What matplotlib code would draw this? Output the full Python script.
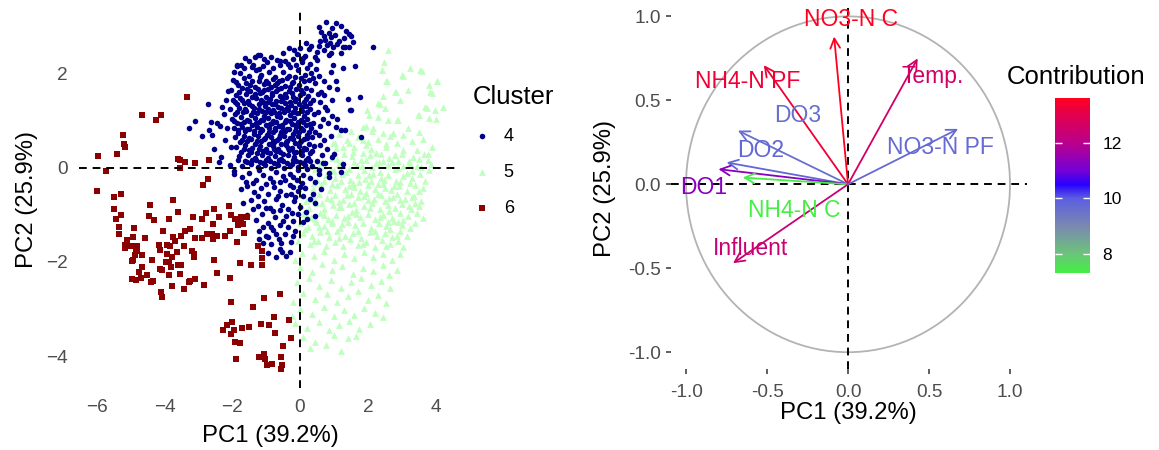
import numpy as np
import matplotlib
matplotlib.use("Agg")
import matplotlib.pyplot as plt
from matplotlib.colors import LinearSegmentedColormap, Normalize
from matplotlib.patches import Circle
from matplotlib.cm import ScalarMappable

plt.rcParams['font.family'] = ['Liberation Sans', 'DejaVu Sans']

# ---- individuals (PC1, PC2) per cluster ----
cluster4 = [
    # head at the top
    (0.78, 3.10), (1.05, 3.08), (0.55, 3.00), (0.95, 2.98), (1.20, 3.02), (0.62, 2.90), (0.85, 2.88), (1.35, 2.92),
    (1.45, 2.86), (0.72, 2.80), (0.90, 2.78), (1.02, 2.83), (1.30, 2.77), (1.50, 2.81), (0.60, 2.70), (0.75, 2.72),
    (0.88, 2.66), (1.15, 2.70), (1.55, 2.68), (0.55, 2.60), (0.80, 2.62), (0.98, 2.57), (1.10, 2.63), (1.32, 2.58),
    (1.28, 2.58), (1.45, 2.58), (0.25, 2.52), (0.50, 2.47), (0.70, 2.50), (0.92, 2.45), (0.31, 2.59), (0.18, 2.65),
    (-0.10, 2.42), (0.15, 2.38), (0.45, 2.36), (0.85, 2.41), (1.20, 2.44), (2.16, 2.58), (-0.34, 2.55), (-0.18, 2.50),
    (0.00, 2.55), (-0.49, 2.45),
    # top of main body
    (-1.23, 2.40), (-1.17, 2.40), (-1.33, 2.37), (-1.87, 2.16), (-1.75, 2.20), (-0.98, 2.26), (-0.69, 2.30),
    (-1.50, 2.28), (-1.62, 2.33), (-0.85, 2.35), (-0.45, 2.27), (-0.22, 2.31), (0.05, 2.26), (0.30, 2.22),
    (-1.40, 2.20), (-1.08, 2.17), (-0.58, 2.19), (-0.30, 2.14), (0.20, 2.12), (-2.13, 1.64), (-1.87, 2.18),
    (-1.65, 2.12), (-1.42, 2.15), (-1.20, 2.10), (-0.80, 2.13), (-0.58, 2.28), (-0.35, 2.22), (-0.12, 2.18),
    (0.10, 2.33), (-1.95, 2.05), (-1.05, 2.32),
    # dense core
    (-1.78, 2.02), (-1.52, 1.95), (-1.30, 2.08), (-1.14, 1.97), (-0.91, 2.05), (-0.73, 1.93), (-0.50, 2.04),
    (-0.33, 1.96), (-0.06, 2.09), (0.14, 1.98), (0.33, 2.03),
    (-1.97, 1.88), (-1.64, 1.91), (-1.43, 1.84), (-1.18, 1.93), (-1.01, 1.86), (-0.80, 1.90), (-0.62, 1.85),
    (-0.39, 1.92), (-0.21, 1.83), (0.04, 1.91), (0.26, 1.87),
    (-1.88, 1.82), (-1.47, 1.77), (-1.22, 1.84), (-0.96, 1.80), (-0.74, 1.76), (-0.53, 1.87), (-0.31, 1.72),
    (-0.15, 1.94), (0.12, 1.84), (0.38, 1.92),
    (-1.83, 1.77), (-1.60, 1.80), (-1.33, 1.73), (-1.07, 1.78), (-0.86, 1.72), (-0.68, 1.81), (-0.45, 1.74),
    (-0.25, 1.80), (-0.02, 1.76), (0.19, 1.71), (0.44, 1.80),
    (-2.04, 1.66), (-1.71, 1.70), (-1.49, 1.63), (-1.25, 1.69), (-1.12, 1.61), (-0.96, 1.67), (-0.72, 1.63),
    (-0.57, 1.70), (-0.33, 1.64), (-0.11, 1.68), (0.09, 1.60), (0.32, 1.66),
    (-1.80, 1.62), (-1.55, 1.68), (-1.33, 1.57), (-1.05, 1.65), (-0.84, 1.55), (-0.65, 1.67), (-0.40, 1.52),
    (-0.25, 1.60), (0.02, 1.66), (0.18, 1.47),
    (-1.90, 1.55), (-1.59, 1.58), (-1.41, 1.52), (-1.17, 1.59), (-0.99, 1.51), (-0.82, 1.60), (-0.60, 1.54),
    (-0.44, 1.58), (-0.20, 1.50), (0.01, 1.56), (0.23, 1.53), (0.52, 1.57),
    (-1.99, 1.45), (-1.76, 1.48), (-1.54, 1.43), (-1.29, 1.49), (-1.09, 1.41), (-0.88, 1.46), (-0.71, 1.43),
    (-0.49, 1.48), (-0.30, 1.41), (-0.12, 1.47), (0.13, 1.40), (0.37, 1.45),
    (-1.92, 1.40), (-1.70, 1.44), (-1.50, 1.37), (-1.15, 1.45), (-0.95, 1.40), (-0.75, 1.35), (-0.55, 1.42),
    (-0.35, 1.30), (-0.14, 1.43), (0.05, 1.30),
    (-1.85, 1.35), (-1.65, 1.38), (-1.43, 1.32), (-1.21, 1.37), (-1.04, 1.31), (-0.84, 1.36), (-0.65, 1.30),
    (-0.44, 1.38), (-0.26, 1.33), (-0.04, 1.37), (0.17, 1.31), (0.28, 1.38),
    (-2.06, 1.25), (-1.79, 1.28), (-1.58, 1.22), (-1.36, 1.27), (-1.13, 1.21), (-0.94, 1.26), (-0.77, 1.20),
    (-0.56, 1.28), (-0.37, 1.23), (-0.16, 1.27), (0.06, 1.21), (0.30, 1.25),
    (-1.87, 1.20), (-1.62, 1.25), (-1.40, 1.19), (-1.20, 1.25), (-0.99, 1.18), (-0.81, 1.23), (-0.62, 1.16),
    (-0.42, 1.25), (-0.22, 1.19), (0.20, 1.20),
    (-1.93, 1.15), (-1.68, 1.18), (-1.46, 1.12), (-1.27, 1.17), (-1.05, 1.11), (-0.87, 1.16), (-0.69, 1.10),
    (-0.48, 1.18), (-0.29, 1.13), (-0.08, 1.17), (0.12, 1.11), (0.42, 1.15),
    (-2.01, 1.05), (-1.75, 1.08), (-1.56, 1.02), (-1.32, 1.07), (-1.16, 1.01), (-0.96, 1.06), (-0.79, 1.00),
    (-0.59, 1.08), (-0.40, 1.03), (-0.19, 1.07), (0.02, 1.01), (0.21, 1.05),
    (-1.95, 0.99), (-1.73, 0.93), (-1.50, 1.00), (-1.30, 0.95), (-1.10, 1.02), (-0.90, 0.93), (-0.70, 0.97),
    (-0.52, 0.92), (-0.30, 1.00), (-0.12, 0.92), (0.08, 0.97), (0.28, 0.93),
    (-1.87, 0.95), (-1.66, 0.98), (-1.41, 0.92), (-1.22, 0.97), (-1.01, 0.91), (-0.84, 0.96), (-0.62, 0.90),
    (-0.45, 0.98), (-0.23, 0.93), (-0.05, 0.97), (0.17, 0.91), (0.37, 0.96),
    (-1.96, 0.85), (-1.71, 0.88), (-1.51, 0.82), (-1.28, 0.87), (-1.11, 0.81), (-0.91, 0.86), (-0.73, 0.80),
    (-0.52, 0.88), (-0.34, 0.83), (-0.12, 0.87), (0.08, 0.81), (0.31, 0.86),
    (-1.82, 0.80), (-1.57, 0.83), (-1.35, 0.78), (-1.14, 0.83), (-0.92, 0.77), (-0.75, 0.84), (-0.55, 0.76),
    (-0.38, 0.83), (-0.16, 0.78), (0.04, 0.84), (0.26, 0.77),
    (-1.82, 0.75), (-1.61, 0.78), (-1.37, 0.72), (-1.18, 0.77), (-0.97, 0.71), (-0.81, 0.76), (-0.60, 0.70),
    (-0.43, 0.78), (-0.21, 0.73), (-0.03, 0.77), (0.21, 0.71), (0.43, 0.76),
    (-1.92, 0.65), (-1.66, 0.68), (-1.46, 0.62), (-1.23, 0.67), (-1.06, 0.61), (-0.86, 0.66), (-0.69, 0.60),
    (-0.47, 0.68), (-0.29, 0.63), (-0.07, 0.67), (0.13, 0.61), (0.34, 0.66),
    (-1.72, 0.60), (-1.50, 0.64), (-1.27, 0.58), (-1.02, 0.63), (-0.80, 0.57), (-0.63, 0.63), (-0.41, 0.55),
    (-0.22, 0.62), (0.00, 0.55), (0.20, 0.63),
    (-1.78, 0.55), (-1.57, 0.58), (-1.33, 0.52), (-1.14, 0.57), (-0.93, 0.51), (-0.76, 0.56), (-0.55, 0.50),
    (-0.38, 0.58), (-0.16, 0.53), (0.02, 0.57), (0.26, 0.51),
    (-1.88, 0.45), (-1.61, 0.48), (-1.41, 0.42), (-1.18, 0.47), (-1.01, 0.41), (-0.81, 0.46), (-0.64, 0.40),
    (-0.42, 0.48), (-0.24, 0.43), (-0.02, 0.47), (0.18, 0.41), (0.41, 0.46),
    (-1.66, 0.40), (-1.45, 0.33), (-1.22, 0.40), (-0.98, 0.35), (-0.77, 0.41), (-0.58, 0.34), (-0.37, 0.42),
    (-0.17, 0.35), (0.13, 0.43), (0.35, 0.36),
    (-1.73, 0.35), (-1.51, 0.38), (-1.27, 0.32), (-1.09, 0.37), (-0.88, 0.31), (-0.71, 0.36), (-0.50, 0.30),
    (-0.33, 0.38), (-0.11, 0.33), (0.07, 0.37), (0.29, 0.31),
    (-1.81, 0.25), (-1.54, 0.28), (-1.34, 0.22), (-1.11, 0.27), (-0.94, 0.21), (-0.73, 0.26), (-0.56, 0.20),
    (-0.35, 0.28), (-0.17, 0.23), (0.05, 0.27), (0.22, 0.21),
    (-1.61, 0.15), (-1.41, 0.18), (-1.17, 0.12), (-0.99, 0.17), (-0.78, 0.11), (-0.61, 0.16), (-0.39, 0.10),
    (-0.21, 0.18), (0.01, 0.13), (0.18, 0.17),
    (-1.55, 0.12), (-1.30, 0.17), (-1.08, 0.10), (-0.88, 0.15), (-0.68, 0.09), (-0.50, 0.14), (-0.30, 0.05),
    (-0.12, 0.15), (0.08, 0.10), (0.28, 0.14),
    (-1.71, 0.05), (-1.44, 0.08), (-1.25, 0.02), (-1.02, 0.07), (-0.85, 0.01), (-0.64, 0.06), (-0.46, 0.00),
    (-0.25, 0.08), (-0.07, 0.03), (0.15, 0.07), (0.36, 0.04),
    # sparse left tail
    (-3.27, 0.84), (-3.10, 1.00), (-2.72, 1.36), (-2.90, 0.67), (-2.70, 0.81), (-2.36, 0.89), (-2.34, 0.24),
    (-2.06, 0.06), (-1.82, 0.18), (-1.96, -0.06), (-2.60, 0.70), (-2.45, 0.95), (-2.55, 0.40), (-2.25, 1.15),
    (-2.20, 0.60), (-2.15, 0.85), (-2.30, 1.30), (-2.05, 0.45), (-2.40, 0.12), (-2.62, 0.98), (-2.18, 1.45),
    # sparse right side
    (0.55, 1.95), (0.72, 1.85), (0.62, 1.62), (0.85, 1.72), (1.06, 1.84), (1.08, 1.67), (0.93, 1.45), (0.58, 1.40),
    (0.75, 1.30), (1.41, 1.46), (1.46, 1.23), (1.77, 1.50), (0.79, 1.23), (0.52, 1.18), (0.68, 1.05), (0.95, 1.10),
    (0.60, 0.90), (0.82, 0.95), (1.05, 0.88), (1.33, 0.81), (1.79, 0.65), (0.55, 0.70), (0.72, 0.60), (0.90, 0.68),
    (0.58, 0.48), (0.80, 0.40), (1.00, 0.30), (0.65, 0.28), (0.50, 0.15), (0.75, 0.10), (0.95, 0.24), (1.26, 0.09),
    (0.55, -0.05), (0.85, -0.10), (1.10, 1.05), (0.70, 1.55), (0.48, 2.10), (0.90, 2.05), (1.28, 2.12), (0.98, 2.19),
    (1.62, 2.17), (0.51, 2.30), (1.21, 0.81), (1.50, 1.23), (0.69, 0.11),
    # lower tongue
    (-1.95, -0.12), (-1.70, -0.20), (-1.50, -0.10), (-1.30, -0.25), (-1.10, -0.15), (-0.90, -0.22), (-0.70, -0.08),
    (-0.50, -0.18), (-0.30, -0.12), (-0.10, -0.26), (0.10, -0.15), (0.30, -0.22), (0.55, -0.12), (0.85, -0.20),
    (1.20, -0.08), (-0.60, -0.30), (-1.20, -0.05), (-0.05, -0.05), (0.20, -0.02),
    (-1.60, -0.30), (-1.40, -0.33), (-0.80, -0.30), (-0.45, -0.25), (-0.20, -0.20), (0.00, -0.40), (0.45, -0.30),
    (-1.75, -0.45), (-1.55, -0.38), (-1.35, -0.52), (-1.15, -0.42), (-0.95, -0.55), (-0.78, -0.40), (-0.58, -0.48),
    (-0.40, -0.58), (-0.22, -0.40), (-0.05, -0.50), (0.15, -0.43), (0.38, -0.55), (0.62, -0.45), (-1.00, -0.35),
    (-0.30, -0.36), (-0.15, -0.62), (0.05, -0.33),
    (-1.25, -0.60), (-0.65, -0.60), (-0.28, -0.55), (0.10, -0.60),
    (-1.69, -0.74), (-1.45, -0.68), (-1.25, -0.80), (-1.05, -0.70), (-0.88, -0.85), (-0.70, -0.66), (-0.52, -0.78),
    (-0.35, -0.88), (-0.18, -0.70), (0.00, -0.82), (0.18, -0.93), (0.44, -0.75), (0.30, -0.65), (-0.80, -0.92),
    (-1.40, -0.88), (-1.00, -0.86), (-0.60, -0.90), (-0.25, -0.95),
    (-1.57, -1.00), (-1.30, -1.10), (-1.12, -0.98), (-0.95, -1.18), (-0.75, -1.05), (-0.58, -1.22), (-0.40, -1.02),
    (-0.22, -1.12), (-0.05, -0.98), (0.20, -1.08), (0.45, -1.02), (-0.85, -1.25), (-0.35, -1.25),
    (0.08, -1.15), (-0.50, -1.12), (-1.10, -1.25),
    (-1.22, -1.35), (-1.00, -1.45), (-0.80, -1.32), (-0.62, -1.52), (-0.45, -1.40), (-0.28, -1.58), (-0.85, -1.62),
    (-0.60, -1.72), (-0.54, -1.78), (-0.30, -1.78), (-0.95, -1.80), (-0.40, -1.88), (-0.70, -1.90), (-1.10, -1.60),
    (-1.21, -1.51), (-0.96, -1.47), (-0.15, -1.35), (-0.70, -1.40), (-0.55, -1.60), (-0.20, -1.45),
]

cluster5 = [
    # upper sparse part
    (2.60, 2.50), (2.49, 2.26), (2.43, 2.09), (3.00, 1.98), (3.54, 2.09), (3.24, 2.12), (4.05, 1.85), (3.79, 1.77),
    (3.83, 1.62), (2.54, 1.84), (2.83, 1.62), (2.46, 1.53), (2.95, 1.45), (2.31, 1.38), (2.51, 1.27), (3.69, 1.30),
    (3.98, 1.23), (4.21, 1.30), (3.52, 1.13), (3.81, 1.06), (2.02, 1.13), (2.31, 1.09), (2.60, 1.02), (2.90, 1.02),
    (1.95, 0.89), (2.11, 0.79), (2.46, 0.74), (3.19, 0.84), (3.52, 0.77), (3.88, 0.45), (3.76, 0.30), (1.43, 0.53),
    (1.87, 0.60), (2.65, 0.67), (2.85, 0.53), (3.44, 0.38), (3.34, 0.24), (3.24, 0.10), (1.03, 0.53), (1.28, 0.45),
    (3.61, 2.07), (3.03, 1.96), (3.19, 1.66), (4.03, 1.84), (3.88, 1.59), (2.36, 1.36), (1.97, 1.23), (2.16, 0.84),
    (2.85, 1.02), (3.49, 1.13), (3.74, 1.27), (1.87, 0.87), (1.38, 0.60), (0.98, 0.53), (2.41, 2.09), (2.80, 1.62),
    (2.56, 1.84), (3.05, 0.70), (3.62, 0.62), (4.00, 1.05),
    (1.15, 0.72), (1.50, 0.78), (1.70, 0.66), (2.00, 0.55), (2.30, 0.62), (2.55, 0.50), (2.75, 0.75), (3.30, 0.58),
    (1.60, 0.45), (2.10, 0.40), (2.40, 0.30), (1.85, 0.32), (1.10, 0.20), (3.00, 0.30),
    # dense middle
    (1.05, 0.42), (1.55, 0.35), (1.95, 0.48), (2.25, 0.32), (2.55, 0.44), (3.05, 0.38), (3.65, 0.30), (2.80, 0.28),
    (1.30, 0.30), (0.65, 0.15), (0.95, 0.22), (1.25, 0.12), (1.52, 0.25), (1.80, 0.16), (2.05, 0.27), (2.32, 0.13),
    (2.62, 0.22), (2.90, 0.14), (3.50, 0.20), (3.76, 0.18),
    (0.55, 0.05), (0.90, -0.02), (1.15, 0.08), (1.35, -0.08), (1.60, 0.12), (1.95, 0.18), (2.45, 0.15),
    (2.90, 0.00), (3.20, 0.15), (3.45, 0.05), (3.85, 0.08), (0.30, 0.05),
    (0.45, -0.02), (0.72, 0.05), (1.00, -0.06), (1.22, 0.04), (1.45, -0.03), (1.68, 0.07), (1.90, -0.05),
    (2.12, 0.03), (2.35, -0.08), (2.58, 0.06), (2.80, -0.02), (3.05, 0.04), (3.30, -0.06), (3.58, 0.02), (3.80, -0.04),
    (0.25, -0.18), (0.50, -0.25), (0.78, -0.14), (1.02, -0.22), (1.25, -0.12), (1.48, -0.26), (1.70, -0.16),
    (1.92, -0.24), (2.15, -0.13), (2.38, -0.21), (2.60, -0.15), (2.82, -0.27), (3.05, -0.17), (3.30, -0.22),
    (3.55, -0.12), (3.70, -0.28),
    (0.40, -0.32), (0.70, -0.28), (0.95, -0.35), (1.20, -0.28), (1.45, -0.38), (1.75, -0.30), (2.30, -0.35),
    (2.78, -0.38), (3.25, -0.32), (3.52, -0.50),
    (0.12, -0.38), (0.38, -0.45), (0.62, -0.35), (0.88, -0.47), (1.10, -0.36), (1.34, -0.44), (1.56, -0.33),
    (1.78, -0.48), (2.00, -0.37), (2.22, -0.45), (2.45, -0.34), (2.68, -0.46), (2.92, -0.39), (3.15, -0.48),
    (3.40, -0.36), (3.62, -0.42),
    (0.05, -0.58), (0.30, -0.66), (0.55, -0.55), (0.80, -0.64), (1.04, -0.57), (1.28, -0.68), (1.50, -0.56),
    (1.72, -0.62), (1.95, -0.53), (2.18, -0.67), (2.40, -0.58), (2.62, -0.64), (2.86, -0.55), (3.10, -0.66),
    (3.35, -0.59), (3.58, -0.70),
    (0.18, -0.70), (0.42, -0.62), (0.65, -0.75), (0.90, -0.66), (1.15, -0.72), (1.60, -0.74), (2.00, -0.68),
    (2.50, -0.70), (2.95, -0.68), (3.20, -0.80), (3.30, -0.62),
    (0.02, -0.78), (0.25, -0.86), (0.48, -0.75), (0.72, -0.88), (0.98, -0.79), (1.20, -0.84), (1.44, -0.76),
    (1.66, -0.89), (1.90, -0.80), (2.12, -0.74), (2.35, -0.87), (2.58, -0.78), (2.80, -0.85), (3.02, -0.76),
    (3.28, -0.88), (3.50, -0.80),
    (0.08, -0.98), (0.32, -1.05), (0.58, -0.95), (0.82, -1.08), (1.06, -0.99), (1.30, -1.06), (1.52, -0.94),
    (1.76, -1.04), (2.00, -0.97), (2.22, -1.09), (2.45, -1.00), (2.70, -1.06), (2.94, -0.96), (3.18, -1.03),
    (3.62, -1.07),
    (0.20, -1.00), (0.45, -1.08), (0.70, -1.00), (0.95, -1.12), (1.40, -1.02), (1.65, -0.98), (2.35, -1.05),
    (2.60, -1.15), (3.05, -1.10), (3.40, -1.18),
    (1.82, 0.05), (2.02, -0.15), (2.25, 0.10), (2.48, -0.25), (2.70, 0.12), (1.60, -0.40), (1.88, -0.60),
    (2.10, -0.28), (2.30, -0.55), (2.52, -0.42), (2.75, -0.62), (2.95, -0.30), (3.15, -0.10), (3.38, -0.75),
    (1.38, -0.58), (1.15, -0.82), (2.05, -0.85), (2.62, -0.92), (2.88, -1.15), (3.45, -0.95),
    # lower part
    (0.00, -1.18), (0.22, -1.26), (0.46, -1.15), (0.70, -1.24), (0.95, -1.17), (1.18, -1.28), (1.40, -1.14),
    (1.62, -1.22), (1.86, -1.18), (2.10, -1.27), (2.32, -1.16), (2.55, -1.24), (2.78, -1.13), (3.00, -1.22),
    (3.25, -1.28),
    (0.15, -1.30), (0.55, -1.25), (0.80, -1.35), (1.25, -1.20), (1.70, -1.33), (2.20, -1.35), (2.65, -1.30),
    (2.85, -1.45), (0.40, -1.55), (1.15, -1.50), (1.85, -1.62), (2.55, -1.65),
    (0.10, -1.38), (0.35, -1.45), (0.60, -1.36), (0.85, -1.47), (1.10, -1.35), (1.32, -1.44), (1.55, -1.38),
    (1.80, -1.48), (2.05, -1.36), (2.28, -1.45), (2.50, -1.38), (2.72, -1.47), (2.95, -1.34), (3.15, -1.44),
    (-0.05, -1.56), (0.28, -1.62), (0.52, -1.55), (0.78, -1.66), (1.02, -1.58), (1.26, -1.65), (1.48, -1.52),
    (1.72, -1.63), (1.96, -1.57), (2.20, -1.68), (2.42, -1.54), (2.66, -1.62), (2.90, -1.56), (3.05, -1.68),
    (0.05, -1.80), (0.40, -1.88), (0.70, -1.76), (1.00, -1.95), (1.30, -1.82), (1.60, -1.92), (1.88, -1.78),
    (2.15, -1.90), (2.45, -1.84), (2.70, -1.96), (2.95, -1.82), (-0.15, -1.95),
    (0.00, -2.10), (0.35, -2.22), (0.65, -2.05), (0.95, -2.18), (1.25, -2.08), (1.55, -2.26), (1.85, -2.12),
    (2.15, -2.20), (2.45, -2.06), (2.85, -2.17), (2.62, -2.28),
    (-0.10, -2.42), (0.25, -2.35), (0.55, -2.50), (0.90, -2.38), (1.20, -2.55), (1.50, -2.42), (1.80, -2.34),
    (2.10, -2.48), (2.40, -2.40), (2.65, -2.55),
    (0.10, -2.65), (0.45, -2.78), (0.80, -2.68), (1.10, -2.85), (1.40, -2.72), (1.70, -2.62), (2.00, -2.80),
    (2.30, -2.70), (2.55, -2.88), (-0.20, -2.85),
    (0.00, -3.00), (0.35, -3.10), (0.70, -2.95), (1.00, -3.15), (1.30, -3.02), (1.60, -3.12), (1.90, -2.98),
    (2.20, -3.08), (2.46, -3.16), (-0.25, -3.15),
    (-0.15, -3.30), (0.20, -3.40), (0.55, -3.28), (0.85, -3.45), (1.15, -3.35), (1.45, -3.25), (1.75, -3.42),
    (2.05, -3.32),
    (0.10, -3.60), (0.45, -3.70), (0.77, -3.77), (1.20, -3.89), (1.00, -3.55), (1.40, -3.62), (0.30, -3.82),
    (1.65, -3.58),
]

cluster6 = [
    (-3.34, 1.52), (-4.65, 1.13), (-4.10, 1.13), (-4.26, 1.01), (-5.23, 0.70), (-5.18, 0.51), (-5.15, 0.44),
    (-5.39, 0.29), (-5.96, 0.26), (-5.72, -0.06), (-3.60, 0.20), (-3.54, 0.18), (-3.38, 0.13), (-3.10, 0.11),
    (-2.68, 0.17), (-3.53, 0.01), (-2.71, -0.23), (-2.86, -0.36), (-6.00, -0.48), (-5.50, -0.62), (-5.28, -0.56),
    (-3.74, -0.68), (-5.49, -0.87), (-4.42, -0.79), (-3.59, -0.93), (-5.28, -0.99), (-5.43, -1.08), (-4.47, -1.02),
    (-4.32, -1.11), (-3.86, -1.09), (-3.15, -1.04), (-2.77, -0.96), (-2.53, -0.88), (-2.90, -1.09), (-2.40, -1.04),
    (-2.09, -0.81), (-2.04, -0.99), (-1.92, -1.09), (-1.84, -1.21), (-1.74, -1.14), (-1.69, -1.19), (-1.56, -1.04),
    (-2.58, -1.19), (-3.24, -1.30), (-3.38, -1.35), (-5.33, -1.26), (-4.90, -1.27), (-4.03, -1.35), (-5.34, -1.41),
    (-4.94, -1.46), (-4.56, -1.50), (-3.75, -1.47), (-3.70, -1.55), (-3.50, -1.45), (-3.09, -1.50), (-2.90, -1.50),
    (-2.74, -1.40), (-2.60, -1.41), (-2.56, -1.52), (-2.45, -1.44), (-2.20, -1.45), (-2.06, -1.34), (-5.11, -1.53),
    (-5.16, -1.64), (-4.99, -1.65), (-4.80, -1.65), (-4.80, -1.72), (-5.15, -1.71), (-4.84, -1.77), (-4.88, -1.85),
    (-4.92, -1.96), (-4.96, -1.97), (-4.66, -1.85), (-4.37, -1.96), (-4.17, -1.63), (-4.12, -1.74), (-3.91, -1.64),
    (-3.83, -1.67), (-3.91, -1.82), (-3.78, -1.89), (-3.63, -1.78), (-3.41, -1.65), (-3.18, -1.77), (-3.14, -1.83),
    (-3.13, -1.90), (-3.95, -1.99), (-3.86, -2.01), (-3.59, -2.06), (-3.52, -2.06), (-4.13, -2.15), (-4.06, -2.16),
    (-3.81, -2.10), (-4.67, -2.11), (-4.75, -2.21), (-4.50, -2.28), (-4.70, -2.33), (-4.96, -2.37), (-4.84, -2.39),
    (-4.40, -2.43), (-4.33, -2.41), (-3.86, -2.28), (-3.53, -2.25), (-3.77, -2.52), (-4.09, -2.63), (-4.07, -2.75),
    (-3.42, -2.57), (-3.28, -2.43), (-3.24, -2.40), (-3.11, -2.36), (-2.82, -2.49), (-2.54, -1.96), (-2.46, -2.23),
    (-2.06, -2.33), (-1.77, -2.03), (-1.44, -2.06), (-2.04, -2.85), (-1.38, -2.96), (-1.79, -1.09), (-1.64, -1.38),
    (-1.87, -1.57), (-1.25, -1.67), (-1.11, -1.76), (-1.13, -1.91), (-1.13, -2.06), (-1.75, -1.04),
    (-1.06, -2.77), (-0.59, -2.68), (-0.78, -3.18), (-0.32, -3.23), (-2.16, -3.35), (-2.00, -3.28), (-1.72, -3.40),
    (-1.50, -3.38), (-1.15, -3.31), (-0.91, -3.34), (-1.94, -3.45), (-2.26, -3.45), (-2.04, -3.53), (-0.75, -3.52),
    (-0.27, -3.61), (-1.92, -3.70), (-1.76, -3.72), (-0.50, -3.78), (-1.06, -3.96), (-1.20, -4.03), (-1.02, -4.06),
    (-1.89, -4.06), (-0.57, -4.01), (-0.98, -4.19), (-0.84, -4.17), (-0.54, -4.19), (-0.57, -4.28),
]

cluster_names = ['4', '5', '6']
cluster_colors = ['#00008B', '#C1FFC1', '#8B0000']
cluster_markers = ['o', '^', 's']

# ---- variables: coordinates on PC1/PC2 and contribution ----
var_names = ['NO3-N C', 'NH4-N PF', 'DO3', 'DO2', 'DO1', 'NH4-N C', 'Influent', 'Temp.', 'NO3-N PF']
var_pc1 = [-0.086, -0.52, -0.68, -0.75, -0.80, -0.65, -0.71, 0.43, 0.68]
var_pc2 = [0.88, 0.71, 0.32, 0.13, 0.09, 0.04, -0.47, 0.75, 0.33]
var_contrib = [13.62, 13.3, 9.6, 9.8, 11.3, 7.31, 12.4, 12.6, 9.7]
# where the labels sit (repelled positions)
label_x = [0.02, -0.62, -0.31, -0.54, -0.89, -0.33, -0.60, 0.52, 0.57]
label_y = [0.98, 0.61, 0.41, 0.20, -0.02, -0.155, -0.38, 0.64, 0.22]

contrib_min, contrib_max = 7.31, 13.62

W, H = 1159, 450
fig = plt.figure(figsize=(W / 100, H / 100), dpi=100)

tick_col = '#4D4D4D'
dash = (0, (4, 3))

# ================= left: individuals =================
ax1 = fig.add_axes([79 / W, 1 - 388 / H, (456 - 79) / W, (388 - 10) / H])
for pts, name, col, mk, sz in zip([cluster4, cluster5, cluster6], cluster_names, cluster_colors,
                                  cluster_markers, [16, 24, 15]):
    arr = np.array(pts)
    ax1.scatter(arr[:, 0], arr[:, 1], s=sz, c=col, marker=mk, linewidths=0, label=name,
                zorder=3 if name != '5' else 2)
ax1.axhline(0, color='black', lw=1.4, ls=dash, zorder=4)
ax1.axvline(0, color='black', lw=1.4, ls=dash, zorder=4)
ax1.set_xlim(-6.52, 4.60)
ax1.set_ylim(-4.68, 3.36)
ax1.set_xticks([-6, -4, -2, 0, 2, 4])
ax1.set_yticks([-4, -2, 0, 2])
ax1.tick_params(length=0, labelsize=13.7, labelcolor=tick_col, pad=8)
for s in ax1.spines.values():
    s.set_visible(False)
fig.text(270 / W, 1 - 436 / H, 'PC1 (39.2%)', ha='center', va='center', fontsize=17.2)
fig.text(27 / W, 1 - 199 / H, 'PC2 (25.9%)', ha='center', va='center', fontsize=17.2, rotation=90)

leg = ax1.legend(title='Cluster', loc='upper left', bbox_to_anchor=(473 / W, 1 - 85 / H),
                 bbox_transform=fig.transFigure, frameon=False, borderpad=0, borderaxespad=0,
                 handlelength=1.0, handletextpad=0.7, labelspacing=1.05, fontsize=13,
                 title_fontsize=18.5, alignment='left', markerscale=1.0)

# ================= right: variables =================
cmap = LinearSegmentedColormap.from_list('contrib', [
    (0.0, '#44EE44'), ((8.0 - contrib_min) / (contrib_max - contrib_min), '#6CC47A'),
    ((9.0 - contrib_min) / (contrib_max - contrib_min), '#7A88B2'),
    ((10.0 - contrib_min) / (contrib_max - contrib_min), '#5C5EE0'),
    ((10.5 - contrib_min) / (contrib_max - contrib_min), '#2A00FF'),
    ((11.0 - contrib_min) / (contrib_max - contrib_min), '#7400D6'),
    ((12.0 - contrib_min) / (contrib_max - contrib_min), '#BA008C'),
    ((13.0 - contrib_min) / (contrib_max - contrib_min), '#E2004E'),
    (1.0, '#FF0020')])
norm = Normalize(contrib_min, contrib_max)

ax2 = fig.add_axes([671 / W, 1 - 369 / H, (1027 - 671) / W, (369 - 8) / H])
ax2.add_patch(Circle((0, 0), 1, fill=False, edgecolor='#B3B3B3', lw=1.3, zorder=1))
ax2.axhline(0, color='black', lw=1.4, ls=dash, zorder=2)
ax2.axvline(0, color='black', lw=1.4, ls=dash, zorder=2)
for name, x, y, c, lx, ly in zip(var_names, var_pc1, var_pc2, var_contrib, label_x, label_y):
    col = cmap(norm(c))
    ax2.annotate('', xy=(x, y), xytext=(0, 0),
                 arrowprops=dict(arrowstyle='->,head_length=0.7,head_width=0.35', color=col, lw=1.3,
                                 shrinkA=0, shrinkB=0), zorder=3)
    ax2.text(lx, ly, name, color=col, fontsize=16.5, ha='center', va='center', zorder=4)
ax2.set_xlim(-1.093, 1.105)
ax2.set_ylim(-1.10, 1.05)
ax2.set_xticks([-1.0, -0.5, 0.0, 0.5, 1.0])
ax2.set_yticks([-1.0, -0.5, 0.0, 0.5, 1.0])
ax2.set_xticklabels(['-1.0', '-0.5', '0.0', '0.5', '1.0'])
ax2.set_yticklabels(['-1.0', '-0.5', '0.0', '0.5', '1.0'])
ax2.tick_params(length=3.5, width=1.1, color='#333333', labelsize=13.7, labelcolor=tick_col, pad=4)
ax2.tick_params(axis='x', pad=7)
for s in ax2.spines.values():
    s.set_visible(False)
fig.text(848 / W, 1 - 413 / H, 'PC1 (39.2%)', ha='center', va='center', fontsize=17.2)
fig.text(605 / W, 1 - 189 / H, 'PC2 (25.9%)', ha='center', va='center', fontsize=17.2, rotation=90)

# colour bar
cax = fig.add_axes([1055 / W, 1 - 273 / H, 35 / W, 175 / H])
cb = fig.colorbar(ScalarMappable(norm=norm, cmap=cmap), cax=cax)
cb.outline.set_visible(False)
cb.set_ticks([8, 10, 12])
cax.tick_params(axis='y', which='both', direction='in', length=5, width=1, color='white',
                left=True, right=True, labelsize=12.5, pad=9)
fig.text(1007 / W, 1 - 77 / H, 'Contribution', ha='left', va='center', fontsize=18.5)

fig.savefig('out.png', dpi=100)
